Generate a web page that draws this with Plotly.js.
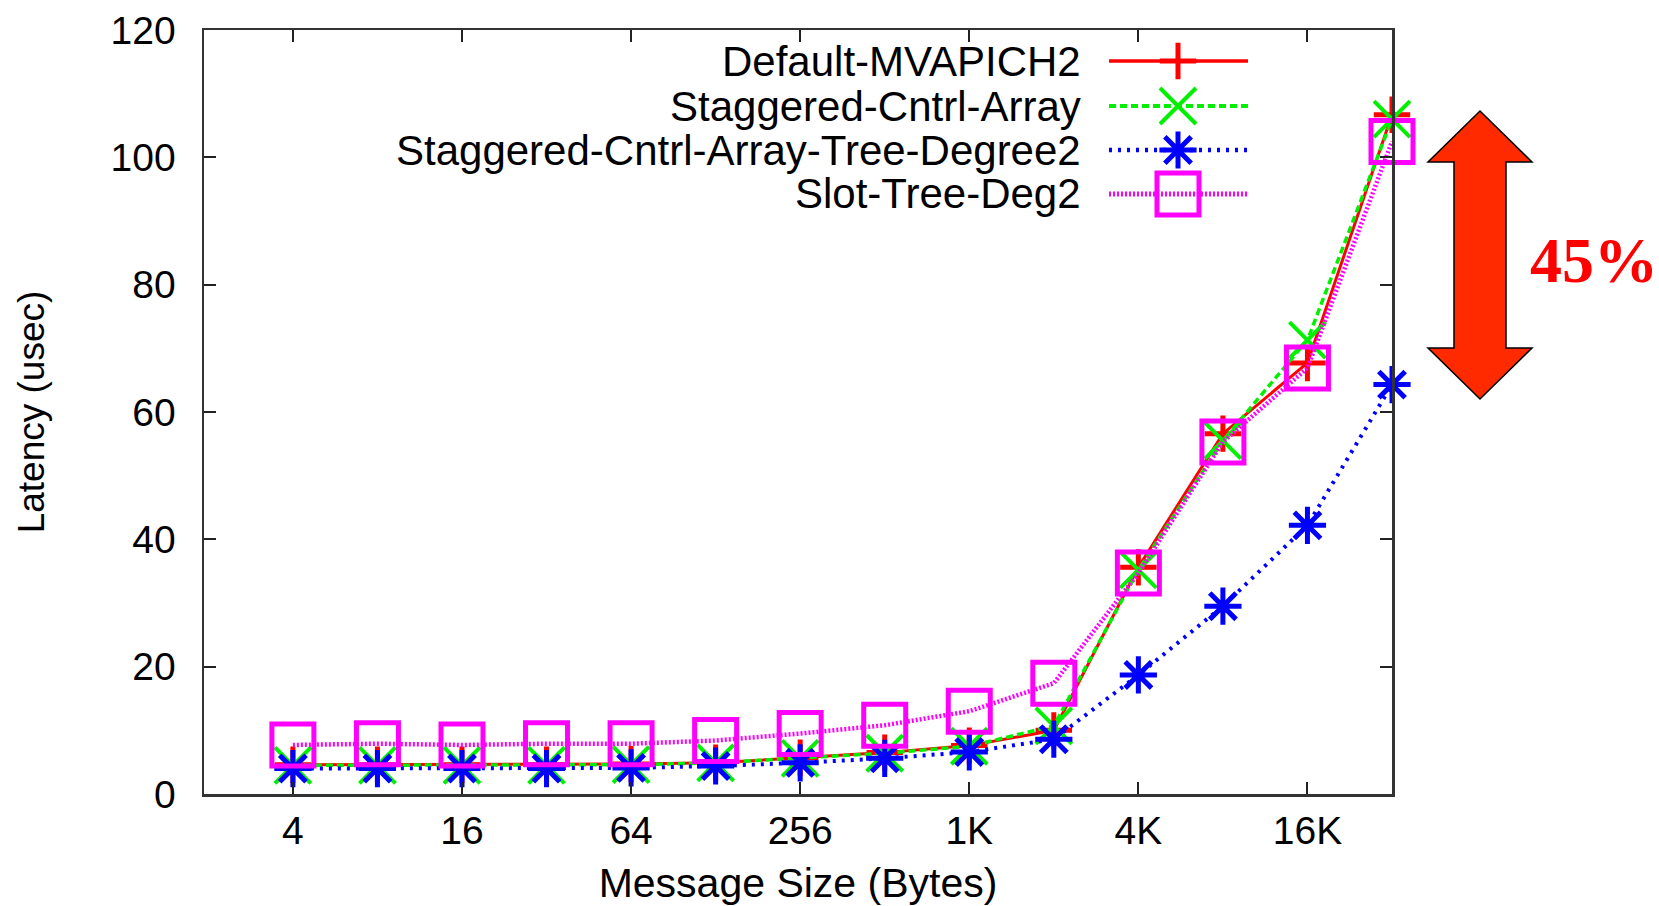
<!DOCTYPE html>
<html><head><meta charset="utf-8">
<script src="https://cdn.plot.ly/plotly-3.0.1.min.js"></script>
<style>html,body{margin:0;padding:0;background:#fff;} #chart{width:1659px;height:906px;}</style>
</head><body><div id="chart"></div>
<script>
// ---- data ----
const messageSizes = [4, 8, 16, 32, 64, 128, 256, 512, 1024, 2048, 4096, 8192, 16384, 32768];
const tickValues = [4, 16, 64, 256, 1024, 4096, 16384];
const tickLabels = ['4', '16', '64', '256', '1K', '4K', '16K'];
const seriesNames = ['Default-MVAPICH2', 'Staggered-Cntrl-Array', 'Staggered-Cntrl-Array-Tree-Degree2', 'Slot-Tree-Deg2'];
const defaultMvapich2 = [4.6, 4.6, 4.6, 4.6, 4.7, 4.9, 5.7, 6.5, 7.6, 10.0, 35.6, 56.6, 67.7, 106.7];
const staggeredCntrlArray = [4.5, 4.5, 4.5, 4.5, 4.6, 4.9, 5.6, 6.4, 7.5, 10.7, 35.2, 55.5, 71.3, 106.0];
const staggeredTreeDeg2 = [4.0, 4.0, 4.0, 4.0, 4.1, 4.4, 4.9, 5.6, 6.6, 8.6, 18.7, 29.5, 42.2, 64.3];
const slotTreeDeg2 = [7.7, 7.9, 7.7, 7.9, 7.9, 8.4, 9.5, 10.8, 13.0, 17.4, 34.7, 55.3, 66.9, 102.5];
const improvementLabel = '45%';

// ---- layout geometry (pixels) ----
const W = 1659, H = 906, L = 204, R = 1392, T = 30, B = 794;
const px = x => (x - L) / (R - L);
const py = y => (B - y) / (B - T);

const styles = [
  {color: '#ff0000', dash: 'solid', lw: 3, symbol: 'cross-thin-open', size: 26, mlw: 5},
  {color: '#00f000', dash: '7px,4px', lw: 3.5, symbol: 'x-thin-open', size: 36, mlw: 4},
  {color: '#0000ff', dash: '3px,6px', lw: 4, symbol: 'asterisk-open', size: 31, mlw: 5},
  {color: '#ff00ff', dash: '2px,2px', lw: 4.5, symbol: 'square-open', size: 42, mlw: 5}
];
const seriesValues = [defaultMvapich2, staggeredCntrlArray, staggeredTreeDeg2, slotTreeDeg2];

const traces = seriesValues.map((vals, i) => ({
  type: 'scatter', mode: 'lines+markers', x: messageSizes, y: vals, name: seriesNames[i],
  line: {color: styles[i].color, width: styles[i].lw, dash: styles[i].dash},
  marker: {symbol: styles[i].symbol, size: styles[i].size, color: styles[i].color,
           line: {color: styles[i].color, width: styles[i].mlw}},
  cliponaxis: false, showlegend: false
}));

// custom gnuplot-style key (text left, sample right)
const keyRows = [61, 106, 150, 194];
const keyLineX = [1109, 1248], keyMarkX = 1178, keyTextX = 1083;
const annotations = [];
seriesNames.forEach((n, i) => {
  traces.push({type: 'scatter', mode: 'lines', xaxis: 'x2', yaxis: 'y2', x: keyLineX, y: [keyRows[i], keyRows[i]],
    line: {color: styles[i].color, width: styles[i].lw + 0.5, dash: styles[i].dash}, showlegend: false, hoverinfo: 'skip'});
  traces.push({type: 'scatter', mode: 'markers', xaxis: 'x2', yaxis: 'y2', x: [keyMarkX], y: [keyRows[i]],
    marker: {symbol: styles[i].symbol, size: styles[i].size, color: styles[i].color,
             line: {color: styles[i].color, width: styles[i].mlw}}, showlegend: false, hoverinfo: 'skip', cliponaxis: false});
  annotations.push({xref: 'paper', yref: 'paper', x: px(keyTextX), y: py(keyRows[i]), xanchor: 'right', yanchor: 'middle',
    text: n, showarrow: false, font: {family: 'Liberation Sans, Arial, sans-serif', size: 42, color: '#000'}});
});

annotations.push({xref: 'paper', yref: 'paper', x: px(1594), y: py(260), xanchor: 'center', yanchor: 'middle',
  text: '<b>' + improvementLabel + '</b>', showarrow: false,
  font: {family: 'Liberation Serif, Times New Roman, serif', size: 64, color: '#ff0000'}});

const arrowPts = [[1480,111],[1532,162],[1506,162],[1506,348],[1532,348],[1480,399],[1428,348],[1454,348],[1454,162],[1428,162]];
const arrowPath = 'M' + arrowPts.map(p => px(p[0]).toFixed(5) + ',' + py(p[1]).toFixed(5)).join(' L') + ' Z';

const font = {family: 'Liberation Sans, Arial, sans-serif', size: 39, color: '#000'};
const layout = {
  width: W, height: H,
  margin: {l: L, r: W - R, t: T, b: H - B, pad: 0},
  paper_bgcolor: '#fff', plot_bgcolor: '#fff',
  font: font,
  showlegend: false,
  xaxis: {
    type: 'log', range: [Math.log10(1.93), Math.log10(32768)],
    tickvals: tickValues, ticktext: tickLabels, tickfont: font,
    ticks: 'inside', ticklen: 12, tickwidth: 2, tickcolor: '#222',
    showline: true, linecolor: '#333', linewidth: 2.5, mirror: 'allticks',
    showgrid: false, zeroline: false, ticklabelstandoff: 1,
    title: {text: 'Message Size (Bytes)', font: {family: 'Liberation Sans, Arial, sans-serif', size: 41, color: '#000'}, standoff: 24}
  },
  yaxis: {
    range: [0, 120], dtick: 20, tickfont: font,
    ticks: 'inside', ticklen: 12, tickwidth: 2, tickcolor: '#222',
    showline: true, linecolor: '#333', linewidth: 2.5, mirror: 'allticks',
    showgrid: false, zeroline: false, ticklabelstandoff: 18,
    title: {text: 'Latency (usec)', font: {family: 'Liberation Sans, Arial, sans-serif', size: 37, color: '#000'}, standoff: 55}
  },
  xaxis2: {overlaying: 'x', range: [L, R], visible: false, fixedrange: true},
  yaxis2: {overlaying: 'y', range: [B, T], visible: false, fixedrange: true},
  shapes: [{type: 'path', xref: 'paper', yref: 'paper', path: arrowPath,
            fillcolor: '#ff2a00', line: {color: '#000', width: 1.5}, layer: 'above'}],
  annotations: annotations
};

Plotly.newPlot('chart', traces, layout, {displayModeBar: false, staticPlot: true});
</script>
</body></html>
